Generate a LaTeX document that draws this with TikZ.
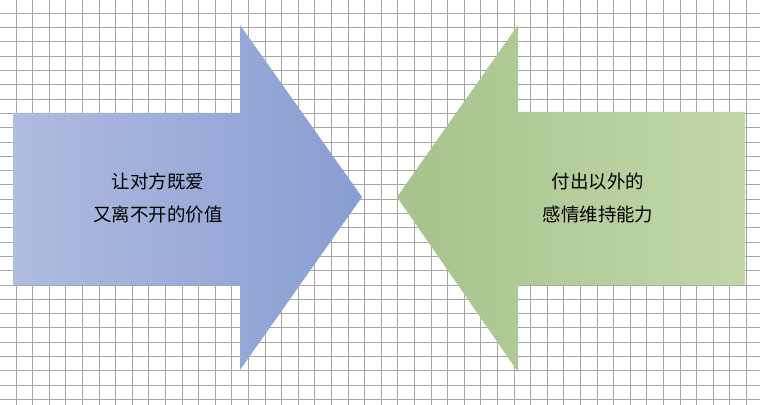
\documentclass[tikz,border=0pt]{standalone}
\usepackage{fontspec}
\newfontfamily\cjk{Noto Sans CJK SC}
\begin{document}
\begin{tikzpicture}[x=0.02cm,y=-0.02cm]
		\tikzstyle{grille}=[draw=gray!70,line width=0.5pt]
		\tikzstyle{texte}=[align=center,font=\cjk\fontsize{10.5}{19}\selectfont]
		\definecolor{bleuA}{HTML}{B0BCE0}
		\definecolor{bleuB}{HTML}{889DD2}
		\definecolor{vertA}{HTML}{A6C38C}
		\definecolor{vertB}{HTML}{C2D7A9}
		\useasboundingbox (0,0) rectangle (760,405);
		\fill[white] (0,0) rectangle (760,405);
		\foreach \i in {0,...,45}
			\draw[grille] ({16+\i*16.6},0) -- ({16+\i*16.6},405);
		\foreach \j in {0,...,28}
			\draw[grille] (0,{13.3+\j*14.3}) -- (760,{13.3+\j*14.3});
		\shade[left color=bleuA,right color=bleuB]
			(13,113) -- (240,113) -- (240,25) -- (362,197) -- (240,370) -- (240,285) -- (13,285) -- cycle;
		\shade[left color=vertA,right color=vertB]
			(745,112) -- (518,112) -- (518,25) -- (397,197) -- (518,372) -- (518,285) -- (745,285) -- cycle;
		\node[texte] (gauche) at (158,198) {让对方既爱\\又离不开的价值};
		\node[texte] (droite) at (598,198) {付出以外的\\感情维持能力};
	\end{tikzpicture}
\end{document}
